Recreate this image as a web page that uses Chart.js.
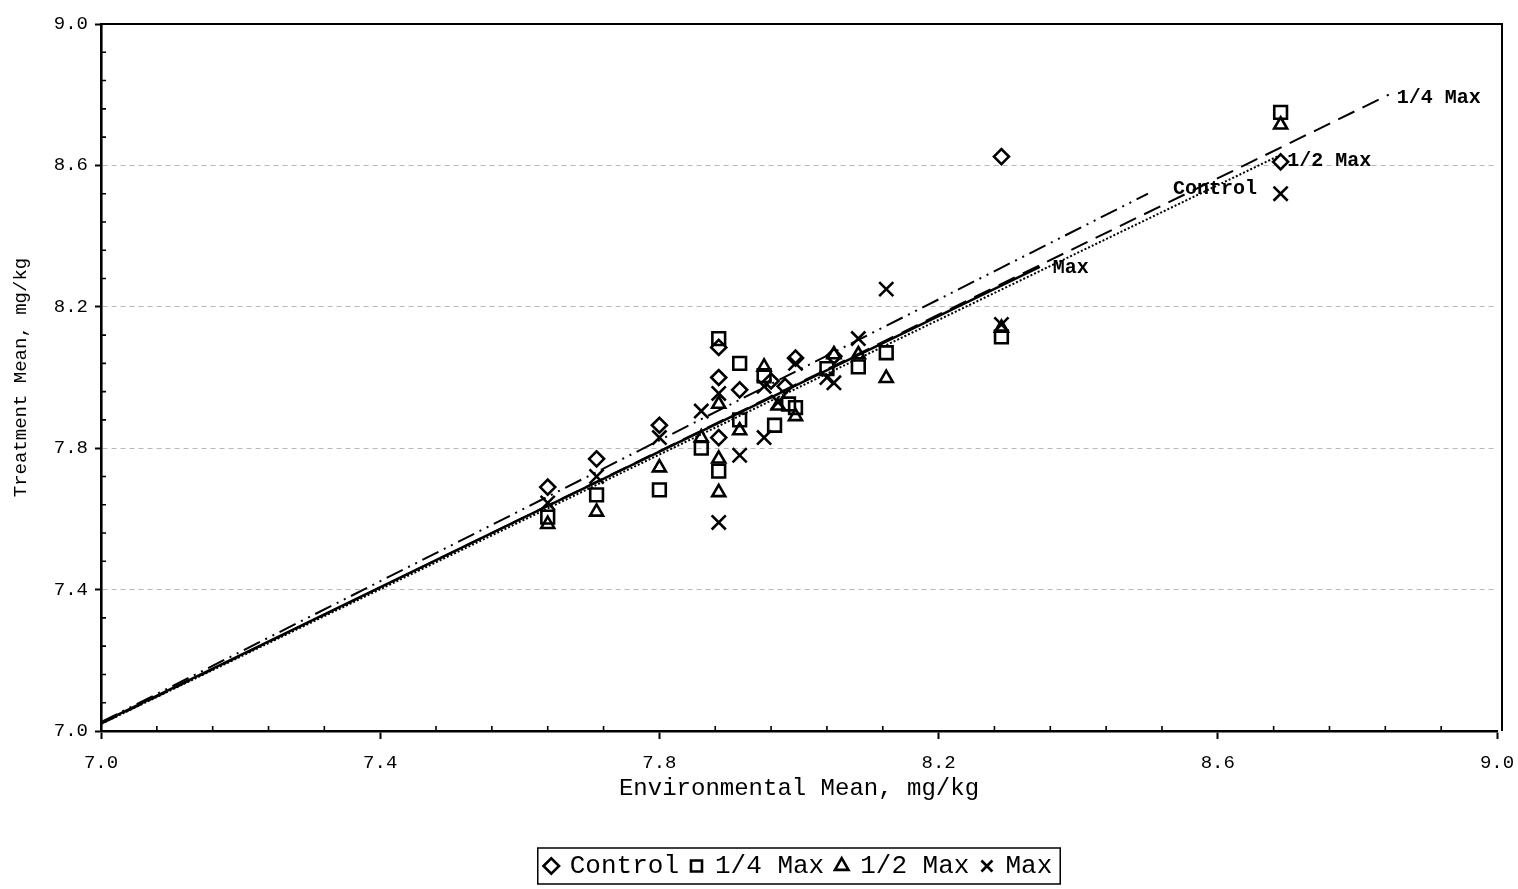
<!DOCTYPE html>
<html>
<head>
<meta charset="utf-8">
<script src="https://cdn.jsdelivr.net/npm/chart.js@4.4.0/dist/chart.umd.min.js"></script>
<style>
    body { margin: 0; background: #fff; }
</style>
</head>
<body>
<canvas id="ChartRegresion" width="1518" height="889"></canvas>
<script>

// limites y ticks de los ejes
const EjeMin = 7.0;
const EjeMax = 9.0;
const PasoTick = 0.4;
const PasoMenor = 0.08;

// puntos [media ambiental, media tratamiento]
const ControlPts = [
    [7.64, 7.69], [7.71, 7.77], [7.80, 7.865], [7.885, 8.085], [7.885, 8.00], [7.885, 7.83],
    [7.915, 7.965], [7.96, 7.99], [7.98, 7.975], [7.995, 8.055], [8.05, 8.06], [8.29, 8.625], [8.69, 8.61]
];
const CuartoMaxPts = [
    [7.64, 7.605], [7.71, 7.668], [7.80, 7.682], [7.86, 7.80], [7.885, 8.11], [7.885, 7.735],
    [7.915, 8.04], [7.915, 7.88], [7.95, 8.005], [7.965, 7.865], [7.985, 7.925], [7.995, 7.915],
    [8.04, 8.025], [8.085, 8.03], [8.125, 8.07], [8.29, 8.115], [8.69, 8.75]
];
const MedioMaxPts = [
    [7.64, 7.585], [7.71, 7.62], [7.80, 7.745], [7.86, 7.83], [7.885, 7.925], [7.885, 7.77],
    [7.885, 7.675], [7.915, 7.85], [7.95, 8.03], [7.97, 7.92], [7.995, 7.89], [8.05, 8.065],
    [8.085, 8.065], [8.125, 7.998], [8.29, 8.14], [8.69, 8.715]
];
const MaxPts = [
    [7.64, 7.645], [7.71, 7.72], [7.80, 7.83], [7.86, 7.905], [7.885, 7.955], [7.885, 7.59],
    [7.915, 7.78], [7.95, 7.975], [7.97, 7.93], [7.95, 7.83], [7.995, 8.04], [8.04, 8.0],
    [8.05, 7.985], [8.085, 8.11], [8.125, 8.25], [8.29, 8.15], [8.69, 8.52]
];

// rectas de regresion (inicio y fin)
const ControlFit = [[7.0, 7.025], [8.50, 8.52]];
const CuartoMaxFit = [[7.0, 7.02], [8.845, 8.80]];
const MedioMaxFit = [[7.0, 7.02], [8.685, 8.625]];
const MaxFit = [[7.0, 7.023], [8.345, 8.313]];

const Series = ['Control', '1/4 Max', '1/2 Max', 'Max'];

const Fuente = '"Liberation Mono", "DejaVu Sans Mono", monospace';

const ToXY = (Arr) => Arr.map(p => ({ x: p[0], y: p[1] }));

const Puntos = (Label, Data, Estilo, Radio) => ({
    label: Label,
    data: ToXY(Data),
    showLine: false,
    pointStyle: Estilo,
    pointRadius: Radio,
    pointHoverRadius: Radio,
    pointBorderWidth: 2.6,
    pointBorderColor: 'black',
    pointBackgroundColor: 'rgba(0,0,0,0)',
    borderColor: 'black',
    backgroundColor: 'rgba(0,0,0,0)'
});

const Recta = (Texto, Data, Dash, Ancho, Dx, Dy) => ({
    label: Texto + ' fit',
    data: ToXY(Data),
    showLine: true,
    pointRadius: 0,
    borderColor: 'black',
    borderWidth: Ancho,
    borderDash: Dash,
    etiqueta: { texto: Texto, dx: Dx, dy: Dy }
});

const PluginDecoracion = {
    id: 'decoracion',
    afterLayout(chart) {
        // centrar la leyenda bajo el area del grafico
        const lg = chart.legend;
        if (!lg) return;
        lg.left = chart.chartArea.left;
        lg.right = chart.chartArea.right;
        lg.width = lg.right - lg.left;
    },
    afterDatasetsDraw(chart) {
        const ctx = chart.ctx;
        const sx = chart.scales.x;
        const sy = chart.scales.y;
        ctx.save();
        ctx.fillStyle = 'black';
        ctx.font = 'bold 20px ' + Fuente;
        ctx.textBaseline = 'middle';
        chart.data.datasets.forEach(ds => {
            if (!ds.etiqueta) return;
            const fin = ds.data[ds.data.length - 1];
            ctx.fillText(ds.etiqueta.texto,
                sx.getPixelForValue(fin.x) + ds.etiqueta.dx,
                sy.getPixelForValue(fin.y) + ds.etiqueta.dy);
        });
        ctx.restore();
    },
    afterDraw(chart) {
        const ctx = chart.ctx;
        const a = chart.chartArea;
        const sx = chart.scales.x;
        const sy = chart.scales.y;
        ctx.save();
        ctx.strokeStyle = 'black';

        // marco superior y derecho
        ctx.lineWidth = 2;
        ctx.beginPath();
        ctx.moveTo(a.left, a.top);
        ctx.lineTo(a.right + 6, a.top);
        ctx.moveTo(a.right + 5, a.top);
        ctx.lineTo(a.right + 5, a.bottom);
        ctx.stroke();

        // ticks menores hacia adentro
        ctx.lineWidth = 1.6;
        ctx.beginPath();
        const n = Math.round((EjeMax - EjeMin) / PasoMenor);
        for (let i = 1; i < n; i++) {
            if (i % 5 === 0) continue;
            const v = EjeMin + i * PasoMenor;
            const px = sx.getPixelForValue(v);
            ctx.moveTo(px, a.bottom);
            ctx.lineTo(px, a.bottom - 5);
            const py = sy.getPixelForValue(v);
            ctx.moveTo(a.left, py);
            ctx.lineTo(a.left + 5, py);
        }
        ctx.stroke();

        // recuadro de la leyenda
        const cajas = chart.legend.legendHitBoxes;
        if (cajas && cajas.length) {
            const l = Math.min(...cajas.map(b => b.left));
            const r = Math.max(...cajas.map(b => b.left + b.width));
            const t = Math.min(...cajas.map(b => b.top));
            const bt = Math.max(...cajas.map(b => b.top + b.height));
            ctx.lineWidth = 1.5;
            ctx.strokeRect(l - 8, t - 5, r - l + 16, bt - t + 10);
        }
        ctx.restore();
    }
};

var ctxRegresion = null;
var ChartRegresion = null;

const InitGrafRegresion = () => {

    ctxRegresion = document.getElementById('ChartRegresion');
    ChartRegresion = new Chart(ctxRegresion, {
        type: 'scatter',
        data: {
            datasets: [
                Puntos(Series[0], ControlPts, 'rectRot', 7.5),
                Puntos(Series[1], CuartoMaxPts, 'rect', 9),
                Puntos(Series[2], MedioMaxPts, 'triangle', 7.5),
                Puntos(Series[3], MaxPts, 'crossRot', 10),
                Recta(Series[0], ControlFit, [18, 6, 2, 6, 2, 6], 2, 25, -5),
                Recta(Series[1], CuartoMaxFit, [18, 9], 2, 8, 3),
                Recta(Series[2], MedioMaxFit, [2, 2], 2, 10, 4),
                Recta(Series[3], MaxFit, [], 2.6, 13, 1)
            ]
        },
        options: {
            responsive: false,
            animation: false,
            layout: {
                padding: { left: 0, right: 21, top: 24, bottom: 0 }
            },
            plugins: {
                tooltip: { enabled: false },
                legend: {
                    position: 'bottom',
                    labels: {
                        usePointStyle: true,
                        boxWidth: 11,
                        boxHeight: 11,
                        padding: 12,
                        color: 'black',
                        font: { family: Fuente, size: 26 },
                        filter: (item) => item.datasetIndex < 4
                    }
                }
            },
            scales: {
                x: {
                    type: 'linear',
                    min: EjeMin,
                    max: EjeMax,
                    afterFit: (scale) => {
                        const ley = scale.chart.legend;
                        scale.height = scale.chart.height - 731 - (ley ? ley.height : 0);
                        scale.paddingRight = 0;
                        scale.paddingLeft = 0;
                    },
                    ticks: {
                        stepSize: PasoTick,
                        padding: 13,
                        color: 'black',
                        font: { family: Fuente, size: 19 },
                        callback: (v) => Number(v).toFixed(1)
                    },
                    grid: {
                        drawOnChartArea: false,
                        drawTicks: true,
                        tickLength: 8,
                        tickColor: 'black',
                        tickWidth: 2
                    },
                    border: { display: true, color: 'black', width: 2.6 },
                    title: {
                        display: true,
                        text: 'Environmental Mean, mg/kg',
                        color: 'black',
                        font: { family: Fuente, size: 24 },
                        padding: { top: 10, bottom: 38 }
                    }
                },
                y: {
                    type: 'linear',
                    min: EjeMin,
                    max: EjeMax,
                    afterFit: (scale) => {
                        scale.width = 101;
                    },
                    ticks: {
                        stepSize: PasoTick,
                        padding: 7,
                        color: 'black',
                        font: { family: Fuente, size: 19 },
                        callback: (v) => Number(v).toFixed(1)
                    },
                    grid: {
                        drawTicks: true,
                        tickLength: 6,
                        tickColor: 'black',
                        tickWidth: 2,
                        lineWidth: 1,
                        color: (c) => (c.tick && (c.tick.value <= EjeMin || c.tick.value >= EjeMax)) ? 'rgba(0,0,0,0)' : '#b8b8b8'
                    },
                    border: { display: true, color: 'black', width: 2.6, dash: [5, 4] },
                    title: {
                        display: true,
                        text: 'Treatment Mean, mg/kg',
                        color: 'black',
                        font: { family: Fuente, size: 19 },
                        padding: { top: 10, bottom: 4 }
                    }
                }
            }
        },
        plugins: [PluginDecoracion]
    });

}

InitGrafRegresion();

</script>
</body>
</html>
